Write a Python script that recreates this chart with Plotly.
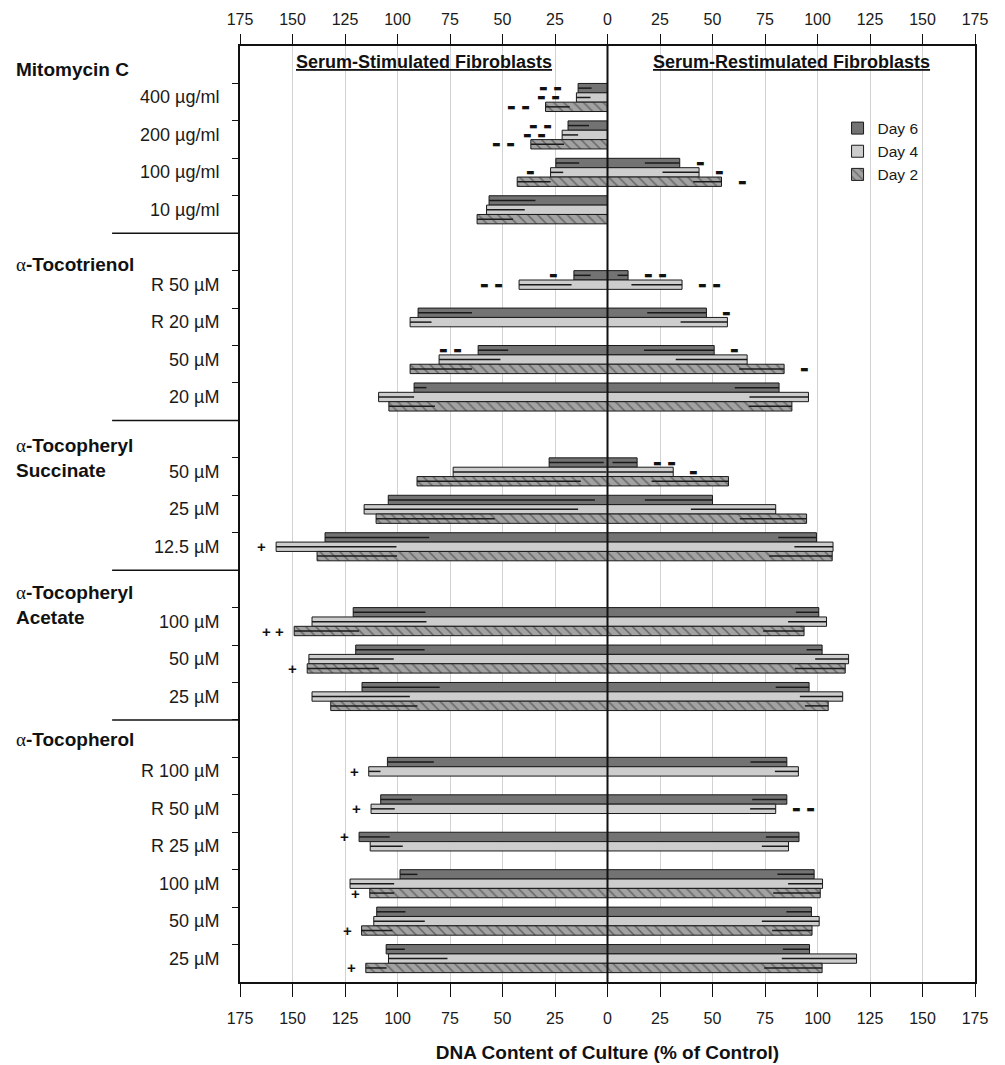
import plotly.graph_objects as go

# ---------------- data ----------------
GROUP_LABELS = ["Mitomycin C", "α-Tocotrienol", "α-Tocopheryl\nSuccinate",
                "α-Tocopheryl\nAcetate", "α-Tocopherol"]
ROW_LABELS = [
    ["400 µg/ml", "200 µg/ml", "100 µg/ml", "10 µg/ml"],
    ["R 50 µM", "R 20 µM", "50 µM", "20 µM"],
    ["50 µM", "25 µM", "12.5 µM"],
    ["100 µM", "50 µM", "25 µM"],
    ["R 100 µM", "R 50 µM", "R 25 µM", "100 µM", "50 µM", "25 µM"],
]
DAYS = ["Day 6", "Day 4", "Day 2"]

# Serum-Stimulated (left side), % of control
STIM = {
    "Day 6": [14.0, 18.8, 24.6, 56.4, 16.0, 90.2, 61.6, 92.1, 27.8, 104.4, 134.5,
              121.1, 119.9, 116.9, 104.8, 108.0, 118.3, 98.8, 109.9, 105.4],
    "Day 4": [14.8, 21.6, 27.1, 57.6, 42.1, 94.0, 80.2, 109.0, 73.5, 115.9, 157.8,
              140.7, 142.2, 140.7, 113.7, 112.6, 113.0, 122.6, 111.3, 104.3],
    "Day 2": [29.5, 36.5, 43.0, 62.1, None, None, 94.0, 104.1, 90.7, 110.2, 138.3,
              149.2, 143.0, 131.8, None, None, None, 113.2, 117.1, 115.1],
}
STIM_ERR = {
    "Day 6": [6.4, 10.0, 11.1, 22.1, 8.0, 25.7, 14.3, 5.9, 26.0, 98.4, 49.6,
              34.4, 32.8, 37.0, 22.1, 14.8, 14.6, 8.3, 13.7, 8.9],
    "Day 4": [6.7, 7.6, 6.0, 18.2, 25.0, 10.2, 29.2, 16.9, 73.0, 101.9, 57.3,
              54.5, 40.4, 46.6, 5.6, 11.3, 15.5, 21.0, 24.3, 28.1],
    "Day 2": [11.5, 15.8, 15.9, 17.1, None, None, 29.5, 21.9, 78.0, 56.5, 38.1,
              30.9, 34.1, 41.3, None, None, None, 11.6, 14.7, 9.9],
}
# Serum-Restimulated (right side), % of control
RESTIM = {
    "Day 6": [None, None, 34.4, None, 9.8, 47.1, 50.8, 81.7, 14.1, 50.0, 99.5,
              100.6, 102.2, 96.0, 85.4, 85.4, 91.2, 98.4, 97.1, 96.2],
    "Day 4": [None, None, 43.6, None, 35.5, 57.1, 66.5, 95.7, 31.3, 80.1, 107.4,
              104.3, 114.8, 112.0, 90.9, 80.1, 86.2, 102.4, 100.8, 118.6],
    "Day 2": [None, None, 54.3, None, None, None, 84.1, 87.8, 57.6, 94.8, 107.0,
              93.6, 113.2, 105.1, None, None, None, 101.3, 97.4, 102.2],
}
RESTIM_ERR = {
    "Day 6": [None, None, 16.6, None, 5.0, 28.2, 33.4, 21.1, 11.7, 32.2, 18.2,
              10.9, 7.4, 15.9, 17.3, 16.5, 15.8, 17.5, 11.9, 12.7],
    "Day 4": [None, None, 17.4, None, 24.1, 22.3, 34.0, 28.1, 31.0, 40.4, 18.4,
              18.3, 15.9, 20.4, 11.2, 12.2, 12.7, 16.4, 27.3, 35.6],
    "Day 2": [None, None, 13.5, None, None, None, 21.4, 20.5, 36.6, 31.8, 30.0,
              19.5, 24.0, 11.1, None, None, None, 22.4, 19.0, 27.6],
}
# significance marks
STIM_SIG = {
    "Day 6": ["--", "--", "", "", "-", "", "--", "", "", "", "", "", "", "", "", "", "+", "", "", ""],
    "Day 4": ["--", "--", "-", "", "--", "", "", "", "", "", "+", "", "", "", "+", "+", "", "", "", ""],
    "Day 2": ["--", "--", "", "", "", "", "", "", "", "", "", "++", "+", "", "", "", "", "+", "+", "+"],
}
RESTIM_SIG = {
    "Day 6": ["", "", "-", "", "--", "-", "-", "", "--", "", "", "", "", "", "", "", "", "", "", ""],
    "Day 4": ["", "", "-", "", "--", "", "", "", "-", "", "", "", "", "", "", "--", "", "", "", ""],
    "Day 2": ["", "", "-", "", "", "", "-", "", "", "", "", "", "", "", "", "", "", "", "", ""],
}
X_TICKS = [-175, -150, -125, -100, -75, -50, -25, 0, 25, 50, 75, 100, 125, 150, 175]
PANEL_TITLES = ["Serum-Stimulated Fibroblasts", "Serum-Restimulated Fibroblasts"]
X_TITLE = "DNA Content of Culture (% of Control)"

# ---------------- styles ----------------
FONT = "Liberation Sans, Arial, sans-serif"
STYLE = {
    "Day 6": dict(color="#737373"),
    "Day 4": dict(color="#cdcdcd"),
    "Day 2": dict(color="#a2a2a2", pattern=dict(shape="\\", fgcolor="#2a2a2a",
                                                   bgcolor="#a2a2a2", size=7, solidity=0.22)),
}
BARGAP = 0.25
HALF = (1 - BARGAP) / 2
HEADER_POS = [0.63, 0.83, 1.0, 0.94, 0.52]   # vertical position within header slot

# ---------------- slot layout ----------------
row_y, header_slot, row_text = [], [], []
slot = 0
for g, rows in zip(GROUP_LABELS, ROW_LABELS):
    header_slot.append(slot)
    slot += 1
    for r in rows:
        row_y.append(slot)
        row_text.append(r)
        slot += 1
n_slots = slot

fig = go.Figure()
for di, d in enumerate(DAYS):
    xs, ys, ep, em = [], [], [], []
    for i, yv in enumerate(row_y):
        v = STIM[d][i]
        xs.append(-v if v is not None else None)
        ys.append(yv)
        ep.append(STIM_ERR[d][i] or 0)
        em.append(0)
    for i, yv in enumerate(row_y):
        v = RESTIM[d][i]
        xs.append(v)
        ys.append(yv)
        ep.append(0)
        em.append(RESTIM_ERR[d][i] or 0)
    marker = dict(line=dict(color="#1a1a1a", width=1), **STYLE[d])
    fig.add_trace(go.Bar(
        x=xs, y=ys, orientation="h", name=d, marker=marker,
        error_x=dict(type="data", symmetric=False, array=ep, arrayminus=em,
                     color="#1a1a1a", thickness=1.5, width=0),
    ))

# significance annotations
DAY_OFF = {d: (k - 1) * (1 - BARGAP) / 3 for k, d in enumerate(DAYS)}
def sig_text(s):
    if s.startswith("-"):
        t = "\u00a0\u00a0".join(["▬"] * len(s))
        return t, dict(family="DejaVu Sans", size=9, color="#111")
    t = "\u00a0".join(["+"] * len(s))
    return "<b>" + t + "</b>", dict(family=FONT, size=15, color="#111")

for d in DAYS:
    for i, yv in enumerate(row_y):
        for side, vals, sigs in ((-1, STIM, STIM_SIG), (1, RESTIM, RESTIM_SIG)):
            s = sigs[d][i]
            v = vals[d][i]
            if not s or v is None:
                continue
            txt, f = sig_text(s)
            gap = 14 if s.startswith("-") else 8
            fig.add_annotation(x=side * v, y=yv + DAY_OFF[d], xref="x", yref="y",
                               text=txt, showarrow=False, font=f,
                               xanchor="right" if side < 0 else "left",
                               yanchor="middle", xshift=side * gap)

# row labels
for yv, t in zip(row_y, row_text):
    fig.add_annotation(x=-0.026, xref="paper", y=yv, yref="y", text=t, showarrow=False,
                       xanchor="right", yanchor="middle",
                       font=dict(family=FONT, size=18, color="#1a1a1a"))

# group headers
def fmt_header(s):
    out = []
    for ln in s.split("\n"):
        if ln.startswith("α"):
            out.append("<span style='font-family:Liberation Serif;font-weight:normal'>α</span><b>" + ln[1:] + "</b>")
        else:
            out.append("<b>" + ln + "</b>")
    return "<br>".join(out)

for hs, g, pos in zip(header_slot, GROUP_LABELS, HEADER_POS):
    fig.add_annotation(x=-0.3075, xref="paper", y=hs - HALF + pos, yref="y",
                       text=fmt_header(g), showarrow=False, xanchor="left", yanchor="middle",
                       align="left", font=dict(family=FONT, size=19, color="#111"))
    if hs > 0:
        fig.add_shape(type="line", xref="paper", yref="y", x0=-0.174, x1=0,
                      y0=hs - HALF, y1=hs - HALF, line=dict(color="#111", width=1.5))

# panel titles
for t, xc in zip(PANEL_TITLES, (-87.5, 87.5)):
    fig.add_annotation(x=xc, xref="x", y=0.983, yref="paper", text="<b><u>" + t + "</u></b>",
                       showarrow=False, xanchor="center", yanchor="middle",
                       font=dict(family=FONT, size=18, color="#111"))

# zero line on top
fig.add_shape(type="line", xref="x", yref="paper", x0=0, x1=0, y0=0, y1=1,
              line=dict(color="#111", width=2), layer="above")

ticktext = [str(abs(v)) for v in X_TICKS]
axis_common = dict(range=[-175, 175], tickvals=X_TICKS, ticktext=ticktext, ticks="outside",
                   tickwidth=1.2, tickcolor="#111", showline=True,
                   linecolor="#111", linewidth=1.8, automargin=False,
                   tickfont=dict(family=FONT, size=16, color="#1a1a1a"), zeroline=False)

fig.update_layout(
    width=1005, height=1065,
    margin=dict(l=232, r=38, t=38, b=91),
    paper_bgcolor="white", plot_bgcolor="white",
    barmode="group", bargap=BARGAP, bargroupgap=0,
    showlegend=True,
    legend=dict(x=0.813, y=0.93, xanchor="left", yanchor="top", bgcolor="rgba(0,0,0,0)",
                font=dict(family=FONT, size=15.5, color="#1a1a1a"), tracegroupgap=0,
                traceorder="normal"),
    xaxis=dict(**axis_common, side="bottom", showgrid=True, gridcolor="#d2d2d2", gridwidth=1,
               ticklen=13, ticklabelstandoff=8,
               title=dict(text="<b>" + X_TITLE + "</b>", standoff=20,
                          font=dict(family=FONT, size=19, color="#111"))),
    xaxis2=dict(**axis_common, side="top", overlaying="x", anchor="y", showgrid=False,
                ticklen=10, ticklabelstandoff=3),
    yaxis=dict(range=[n_slots - 1 + (1 - HALF), -HALF], automargin=False,
               tickvals=[k - HALF for k in range(1, n_slots)], showticklabels=False,
               ticks="outside", ticklen=6, tickwidth=1.2, tickcolor="#111",
               showline=True, linecolor="#111", linewidth=1.8, mirror=True,
               showgrid=False, zeroline=False),
)
fig.add_trace(go.Scatter(x=[None], y=[None], xaxis="x2", yaxis="y", showlegend=False,
                         hoverinfo="skip"))

fig.write_html("out.html")
